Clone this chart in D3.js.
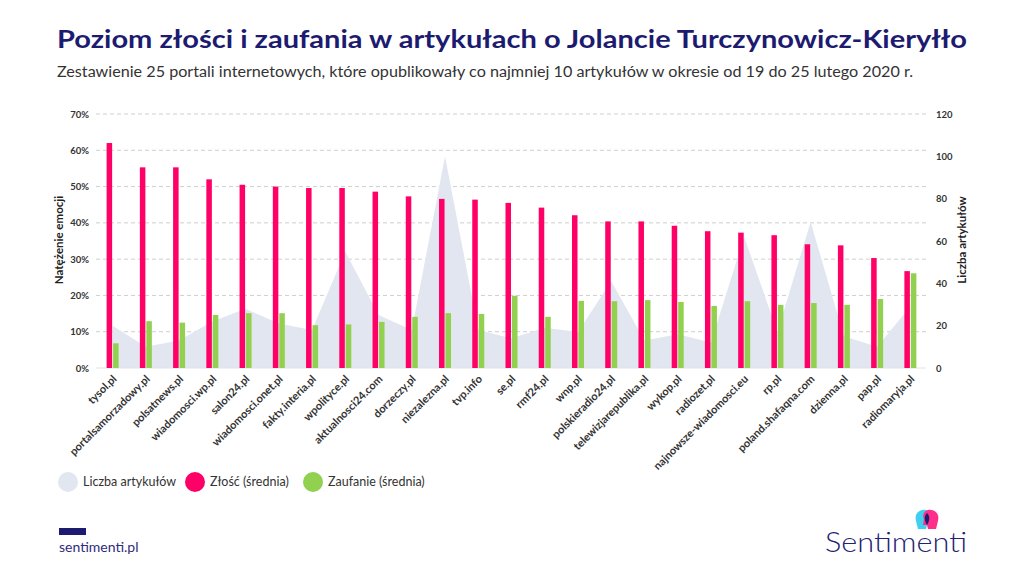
<!DOCTYPE html>
<html>
<head>
<meta charset="utf-8">
<script src="https://cdn.jsdelivr.net/npm/d3@7"></script>
<style>
  body { margin: 0; background: #fff; }
  svg { display: block; font-family: "Lato", "Noto Sans", sans-serif; }
</style>
</head>
<body>
<svg id="chart" width="1024" height="576"></svg>
<script>
//----------------------------------------------------------- DATA
var portals = ["tysol.pl","portalsamorzadowy.pl","polsatnews.pl","wiadomosci.wp.pl","salon24.pl",
  "wiadomosci.onet.pl","fakty.interia.pl","wpolityce.pl","aktualnosci24.com","dorzeczy.pl",
  "niezalezna.pl","tvp.info","se.pl","rmf24.pl","wnp.pl","polskieradio24.pl","telewizjarepublika.pl",
  "wykop.pl","radiozet.pl","najnowsze-wiadomosci.eu","rp.pl","poland.shafaqna.com","dzienna.pl",
  "pap.pl","radiomaryja.pl"];
var anger = [62,55.3,55.3,52,50.5,50,49.6,49.6,48.6,47.3,46.6,46.4,45.5,44.2,42.1,40.4,40.4,
  39.2,37.7,37.3,36.6,34.1,33.8,30.3,26.7];
var trust = [6.8,12.9,12.5,14.6,15.1,15.1,11.8,12,12.7,14.1,15.1,14.9,19.9,14.1,18.5,18.4,18.7,
  18.2,17.1,18.4,17.4,17.9,17.4,19,26.1];
var articles = [20,10,13,22,28,21,18,55,25,18,100,18,14,19,17,41,13,16,12,62,17,69,15,10,29];
var leftTicks = [0,10,20,30,40,50,60,70];
var rightTicks = [0,20,40,60,80,100,120];
var legendItems = ["Liczba artykułów","Złość (średnia)","Zaufanie (średnia)"];

var navy = "#1d1b6f", red = "#ff0066", green = "#92d050", areaCol = "#e1e6f0", txt = "#333";

//----------------------------------------------------------- SCALES
var svg = d3.select("#chart");
var x = d3.scaleBand().domain(portals).range([96, 927]);
var xs = d3.scaleBand().domain(["anger","trust"]).range([-6, 6]).paddingInner(0.15);
var yL = d3.scaleLinear().domain([0,70]).range([368, 114]);
var yR = d3.scaleLinear().domain([0,120]).range([368, 114]);
var cx = function(i){ return x(portals[i]) + x.bandwidth()/2; };

//----------------------------------------------------------- TITLES
svg.append("text").attr("x", 57).attr("y", 48)
  .attr("font-size", 25).attr("font-weight", 700).attr("fill", navy)
  .attr("textLength", 910).attr("lengthAdjust", "spacingAndGlyphs")
  .text("Poziom złości i zaufania w artykułach o Jolancie Turczynowicz-Kieryłło");
svg.append("text").attr("x", 57).attr("y", 77)
  .attr("font-size", 15.5).attr("fill", txt)
  .attr("textLength", 856).attr("lengthAdjust", "spacingAndGlyphs")
  .text("Zestawienie 25 portali internetowych, które opublikowały co najmniej 10 artykułów w okresie od 19 do 25 lutego 2020 r.");

//----------------------------------------------------------- GRID
svg.append("g").selectAll("line").data(leftTicks.slice(1)).join("line")
  .attr("x1", 96).attr("x2", 926)
  .attr("y1", d => yL(d)).attr("y2", d => yL(d))
  .attr("stroke", "#cfcfcf").attr("stroke-dasharray", "4,3");

//----------------------------------------------------------- AREA
var area = d3.area()
  .x((d,i) => cx(i))
  .y0(yR(0))
  .y1(d => yR(d));
svg.append("path").datum(articles).attr("d", area).attr("fill", areaCol);

svg.append("line").attr("x1", 96).attr("x2", 926).attr("y1", yL(0)).attr("y2", yL(0))
  .attr("stroke", "#e3e3e3");

//----------------------------------------------------------- BARS
var groups = svg.append("g").selectAll("g").data(portals).join("g")
  .attr("transform", (d,i) => "translate(" + cx(i) + ",0)");
groups.append("rect")
  .attr("x", xs("anger")).attr("width", xs.bandwidth())
  .attr("y", (d,i) => yL(anger[i])).attr("height", (d,i) => yL(0) - yL(anger[i]))
  .attr("fill", red);
groups.append("rect")
  .attr("x", xs("trust")).attr("width", xs.bandwidth())
  .attr("y", (d,i) => yL(trust[i])).attr("height", (d,i) => yL(0) - yL(trust[i]))
  .attr("fill", green);

//----------------------------------------------------------- AXES
var axL = svg.append("g").attr("transform", "translate(89,0)")
  .call(d3.axisLeft(yL).tickValues(leftTicks).tickSize(0).tickFormat(d => d + "%"));
var axR = svg.append("g").attr("transform", "translate(936,0)")
  .call(d3.axisRight(yR).tickValues(rightTicks).tickSize(0));
[axL, axR].forEach(function(a){
  a.select(".domain").remove();
  a.selectAll("text").attr("font-size", 9.5).attr("font-weight", 700)
    .attr("fill", txt).attr("font-family", "Lato, sans-serif");
});
axL.selectAll("text").attr("x", 0);
axR.selectAll("text").attr("x", 0);

svg.append("text").attr("transform", "translate(63,240) rotate(-90)")
  .attr("text-anchor", "middle").attr("font-size", 11.5).attr("font-weight", 700)
  .attr("fill", "#222").text("Natężenie emocji");
svg.append("text").attr("transform", "translate(966,240) rotate(-90)")
  .attr("text-anchor", "middle").attr("font-size", 11.5).attr("font-weight", 700)
  .attr("fill", "#222").text("Liczba artykułów");

// x labels
svg.append("g").selectAll("text").data(portals).join("text")
  .attr("transform", (d,i) => "translate(" + (cx(i) + 2) + ",377) rotate(-45)")
  .attr("text-anchor", "end").attr("dy", "0.35em")
  .attr("font-size", 11).attr("font-weight", 700).attr("fill", txt)
  .text(d => d);

//----------------------------------------------------------- LEGEND
var legX = [68, 195, 313];
var legC = [areaCol, red, green];
var leg = svg.append("g").selectAll("g").data(legendItems).join("g")
  .attr("transform", (d,i) => "translate(" + legX[i] + ",482)");
leg.append("circle").attr("r", 10).attr("fill", (d,i) => legC[i]);
leg.append("text").attr("x", 15).attr("dy", "0.35em").attr("font-size", 12.5)
  .attr("fill", txt).text(d => d);

//----------------------------------------------------------- FOOTER
svg.append("rect").attr("x", 59).attr("y", 528).attr("width", 27).attr("height", 7).attr("fill", navy);
svg.append("text").attr("x", 59).attr("y", 552).attr("font-size", 14)
  .attr("fill", "#2e2c7c").text("sentimenti.pl");

svg.append("text").attr("x", 825).attr("y", 552).attr("font-size", 28)
  .attr("fill", "#232172").attr("font-weight", 300)
  .attr("textLength", 142).attr("lengthAdjust", "spacingAndGlyphs").text("Sentimenti");
// logo heads
var logo = svg.append("g").attr("transform", "translate(927,521)");
logo.append("path").attr("d", "M-11,0 C-13,-8 -7,-12 -1,-11 C3,-10 5,-6 3,-2 L4,4 L0,4 L-1,8 L-9,8 Z")
  .attr("fill", "#3fd0f0");
logo.append("path").attr("d", "M11,0 C13,-8 7,-12 1,-11 C-3,-10 -5,-6 -3,-2 L-4,4 L0,4 L1,8 L9,8 Z")
  .attr("fill", "#ff2e8a");
logo.append("path").attr("d", "M0,-8 C3,-5 3,-1 0,4 C-3,-1 -3,-5 0,-8 Z").attr("fill", navy);
</script>
</body>
</html>
